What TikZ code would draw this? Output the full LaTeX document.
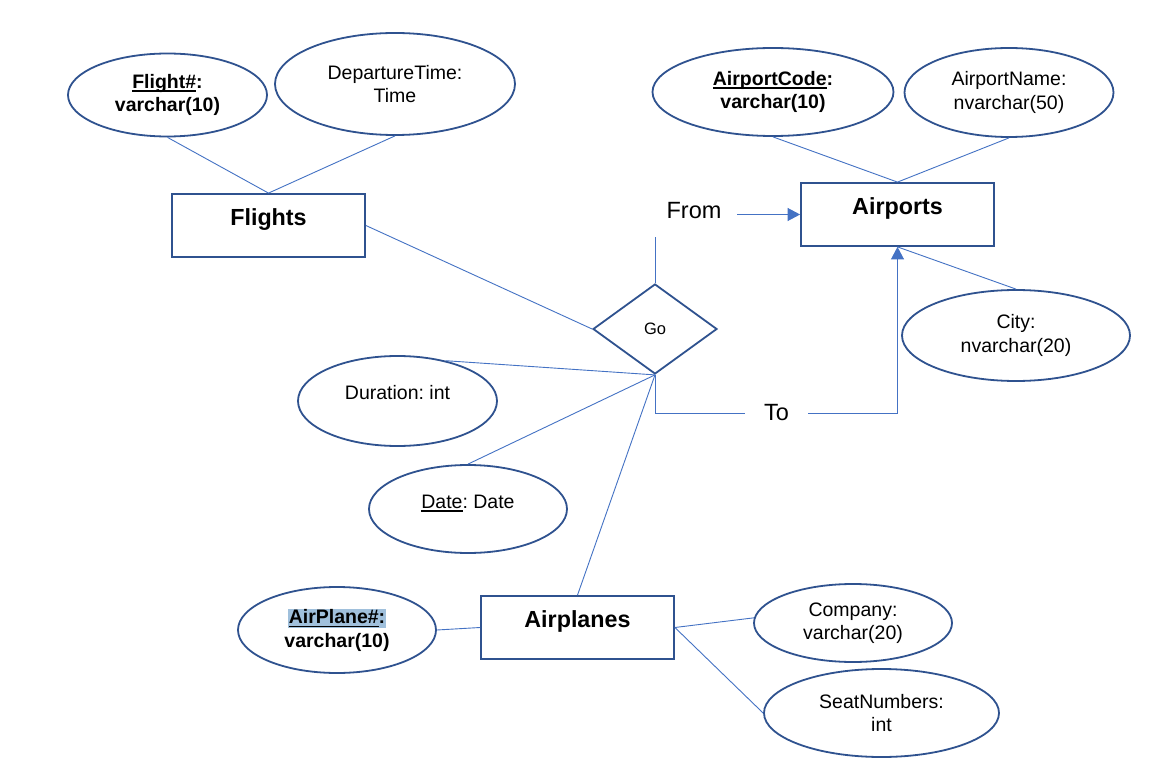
\documentclass[tikz,border=0pt]{standalone}
\usepackage{fontspec}
\setmainfont{Liberation Sans}
\usetikzlibrary{shapes.geometric,arrows.meta}
\definecolor{outl}{HTML}{2F528F}
\definecolor{linkc}{HTML}{4472C4}
\definecolor{hl}{RGB}{160,192,220}
\newcommand\myul[1]{\setbox0\hbox{#1}\rlap{\rule[-3.6pt]{\wd0}{1.7pt}}\box0}
\frenchspacing
\begin{document}
\begin{tikzpicture}[x=1pt,y=-1pt,
  attr/.style={ellipse, draw=outl, line width=1.8pt, inner sep=0pt, align=center,
    font=\fontsize{19.5}{23.5}\selectfont},
  ent/.style={rectangle, draw=outl, line width=1.8pt, minimum width=193pt, minimum height=63pt,
    inner sep=0pt, font=\bfseries\fontsize{23.3}{28}\selectfont, text height=17pt, text depth=17pt},
  rel/.style={diamond, draw=outl, line width=1.8pt, minimum width=124pt, minimum height=90pt,
    inner sep=0pt, font=\fontsize{16.5}{20}\selectfont},
  link/.style={draw=linkc, line width=0.9pt},
  arr/.style={-{Triangle[length=12.5pt,width=13pt]}},
  lbl/.style={inner sep=0pt, font=\fontsize{23.5}{28}\selectfont}
]
\useasboundingbox[fill=white] (0,0) rectangle (1165,778);

% attributes
\node[attr, minimum width=199pt, minimum height=83pt] (flightno) at (167.5,95)
  {\textbf{\myul{Flight\#}:}\\\textbf{varchar(10)}};
\node[attr, minimum width=240pt, minimum height=102pt] (dep) at (395,84)
  {DepartureTime:\\Time};
\node[attr, minimum width=241pt, minimum height=88pt] (apcode) at (773,92)
  {\textbf{\myul{AirportCode}:}\\\textbf{varchar(10)}};
\node[attr, minimum width=209pt, minimum height=89pt] (apname) at (1009,92.5)
  {AirportName:\\nvarchar(50)};
\node[attr, minimum width=228pt, minimum height=91pt] (city) at (1016,335.5)
  {City:\\nvarchar(20)};
\node[attr, minimum width=199pt, minimum height=90pt, text height=14pt, text depth=18pt] (duration) at (397.5,401)
  {Duration: int};
\node[attr, minimum width=198pt, minimum height=88pt, text height=14pt, text depth=16pt] (date) at (468,509)
  {\myul{Date}: Date};
\node[attr, minimum width=198pt, minimum height=86pt] (apno) at (337,630)
  {\setlength\fboxsep{1pt}\colorbox{hl}{\textbf{\myul{AirPlane\#}:}}\\\textbf{varchar(10)}};
\node[attr, minimum width=198pt, minimum height=78pt] (company) at (853,623)
  {Company:\\varchar(20)};
\node[attr, minimum width=235pt, minimum height=88pt] (seat) at (881.5,713)
  {SeatNumbers:\\int};

% entities
\node[ent] (flights) at (268.5,225.5) {Flights};
\node[ent] (airports) at (897.5,214.5) {Airports};
\node[ent] (airplanes) at (577.5,627.5) {Airplanes};

% relationship
\node[rel] (go) at (655,329) {Go};

% connector labels
\node[lbl, minimum width=86pt, minimum height=52pt] (fromlbl) at (694,211) {From};
\node[lbl, minimum width=63pt, minimum height=40pt] (tolbl) at (776.5,413) {To};

% connectors
\draw[link] (flightno.south) -- (flights.north);
\draw[link] (dep.south) -- (flights.north);
\draw[link] (apcode.south) -- (airports.north);
\draw[link] (apname.south) -- (airports.north);
\draw[link] (airports.south) -- (city.north);
\draw[link] (flights.east) -- (go.west);
\draw[link] (go.south) -- (duration.40);
\draw[link] (go.south) -- (date.north);
\draw[link] (go.south) -- (airplanes.north);
\draw[link] (airplanes.west) -- (apno.east);
\draw[link] (airplanes.east) -- (company.177);
\draw[link] (airplanes.east) -- (seat.west);

% From / To connectors
\draw[link] (go.north) -- (go.north |- fromlbl.south);
\draw[link, arr] (fromlbl.east |- airports.west) -- (airports.west);
\draw[link] (go.south) |- (tolbl.west);
\draw[link, arr] (tolbl.east) -| (airports.south);
\end{tikzpicture}
\end{document}
